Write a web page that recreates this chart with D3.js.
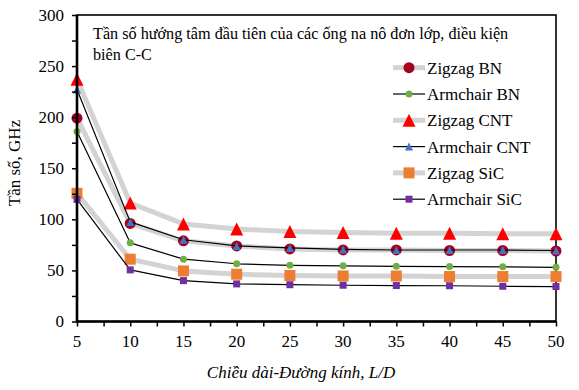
<!DOCTYPE html>
<html><head><meta charset="utf-8">
<script src="https://cdn.jsdelivr.net/npm/d3@7/dist/d3.min.js"></script>
<style>
html,body{margin:0;padding:0;background:#fff;}
text{font-family:"Liberation Serif","Times New Roman",serif;fill:#000;}
</style></head>
<body><svg id="c" width="579" height="390"></svg>
<script>
const ratios = [5,10,15,20,25,30,35,40,45,50];
const zigzagBN    = [199,96,79,74,71,70,70,69.5,69.5,69];
const armchairBN  = [186,77,61,56.5,55,54.5,54,53.8,53.5,53];
const zigzagCNT   = [237,116,95.5,90.5,88,87,86.5,86.5,86,86];
const armchairCNT = [227,97.5,80,74,72,70.5,70,70,70,69.5];
const zigzagSiC   = [125.5,61,49.5,46.3,45,44.6,44.5,44,44,44];
const armchairSiC = [119.5,50.5,40,36.8,36,35.5,35.2,35,34.5,34.2];
const seriesNames = ["Zigzag BN","Armchair BN","Zigzag CNT","Armchair CNT","Zigzag SiC","Armchair SiC"];
const xTicks = [5,10,15,20,25,30,35,40,45,50];
const yTicks = [0,50,100,150,200,250,300];
const titleLines = ["Tần số hướng tâm đầu tiên của các ống na nô đơn lớp, điều kiện","biên C-C"];
const xTitle = "Chiều dài-Đường kính, L/D";
const yTitle = "Tần số, GHz";

const values = [zigzagBN, armchairBN, zigzagCNT, armchairCNT, zigzagSiC, armchairSiC];
const styles = [
  {line:"#d3d3d3", lw:5, shape:"circle", size:11, fill:"#a50021"},
  {line:"#000", lw:1.2, shape:"circle", size:7, fill:"#70ad47"},
  {line:"#d3d3d3", lw:5, shape:"triangle", size:13, fill:"#ff0000"},
  {line:"#000", lw:1.2, shape:"triangle", size:8, fill:"#4472c4"},
  {line:"#d3d3d3", lw:5, shape:"square", size:11, fill:"#ed7d31"},
  {line:"#000", lw:1.2, shape:"square", size:7, fill:"#7030a0"}
];

const L=77, R=556, T=15, B=321.5;
const svg = d3.select("#c");
const x = d3.scaleLinear().domain([5,50]).range([L,R]);
const y = d3.scaleLinear().domain([0,300]).range([B,T]);

svg.append("rect").attr("x",L).attr("y",T).attr("width",R-L).attr("height",B-T)
  .attr("fill","none").attr("stroke","#000").attr("stroke-width",1.6);

function marker(g, shape, s, fill){
  if(shape==="circle"){
    g.append("circle").attr("r",s/2).attr("fill",fill);
  } else if(shape==="square"){
    g.append("rect").attr("x",-s/2).attr("y",-s/2).attr("width",s).attr("height",s).attr("fill",fill);
  } else {
    const h=s;
    g.append("path").attr("d",`M0,${-h/2}L${s/2},${h/2}L${-s/2},${h/2}Z`).attr("fill",fill);
  }
}

const line = d3.line().x((d,i)=>x(ratios[i])).y(d=>y(d)).curve(d3.curveLinear);
values.forEach((vals,k)=>{
  const st=styles[k];
  svg.append("path").attr("d",line(vals)).attr("fill","none")
    .attr("stroke",st.line).attr("stroke-width",st.lw).attr("stroke-linejoin","round").attr("stroke-linecap","round");
  vals.forEach((v,i)=>{
    const g=svg.append("g").attr("transform",`translate(${x(ratios[i])},${y(v)})`);
    marker(g,st.shape,st.size,st.fill);
  });
});

const xAxis = svg.append("g").attr("transform",`translate(0,${B})`)
  .call(d3.axisBottom(x).tickValues(d3.range(5,50.1,2.5)).tickSize(5).tickFormat(""));
xAxis.select(".domain").remove();
xAxis.selectAll("line").attr("stroke","#000").attr("stroke-width",1.5);
const yAxis = svg.append("g").attr("transform",`translate(${L},0)`)
  .call(d3.axisLeft(y).tickValues(d3.range(0,300.1,25)).tickSize(5).tickFormat(""));
yAxis.select(".domain").remove();
yAxis.selectAll("line").attr("stroke","#000").attr("stroke-width",1.5);
svg.append("line").attr("x1",L).attr("x2",R).attr("y1",B).attr("y2",B).attr("stroke","#000").attr("stroke-width",2.6);
svg.append("line").attr("x1",L).attr("x2",L).attr("y1",T).attr("y2",B+1).attr("stroke","#000").attr("stroke-width",2.6);

svg.selectAll(".xl").data(xTicks).enter().append("text")
  .attr("x",d=>x(d)).attr("y",347).attr("text-anchor","middle").attr("font-size",17).text(d=>d);
svg.selectAll(".yl").data(yTicks).enter().append("text")
  .attr("x",64).attr("y",d=>y(d)+5.5).attr("text-anchor","end").attr("font-size",17).text(d=>d);

svg.append("text").attr("x",301).attr("y",378).attr("text-anchor","middle")
  .attr("font-size",17).attr("font-style","italic").text(xTitle);
svg.append("text").attr("transform","translate(20,163) rotate(-90)").attr("text-anchor","middle")
  .attr("font-size",17).text(yTitle);

titleLines.forEach((t,i)=>{
  svg.append("text").attr("x",93).attr("y",39+i*21).attr("font-size",16.2).text(t);
});

const legY0=67.7, legDy=26.3;
seriesNames.forEach((n,k)=>{
  const st=styles[k], yy=legY0+k*legDy;
  svg.append("line").attr("x1",393).attr("x2",425).attr("y1",yy).attr("y2",yy)
    .attr("stroke",st.line).attr("stroke-width",st.lw);
  const g=svg.append("g").attr("transform",`translate(409,${yy})`);
  marker(g,st.shape,st.size,st.fill);
  svg.append("text").attr("x",427).attr("y",yy+6).attr("font-size",17).text(n);
});
</script></body></html>
